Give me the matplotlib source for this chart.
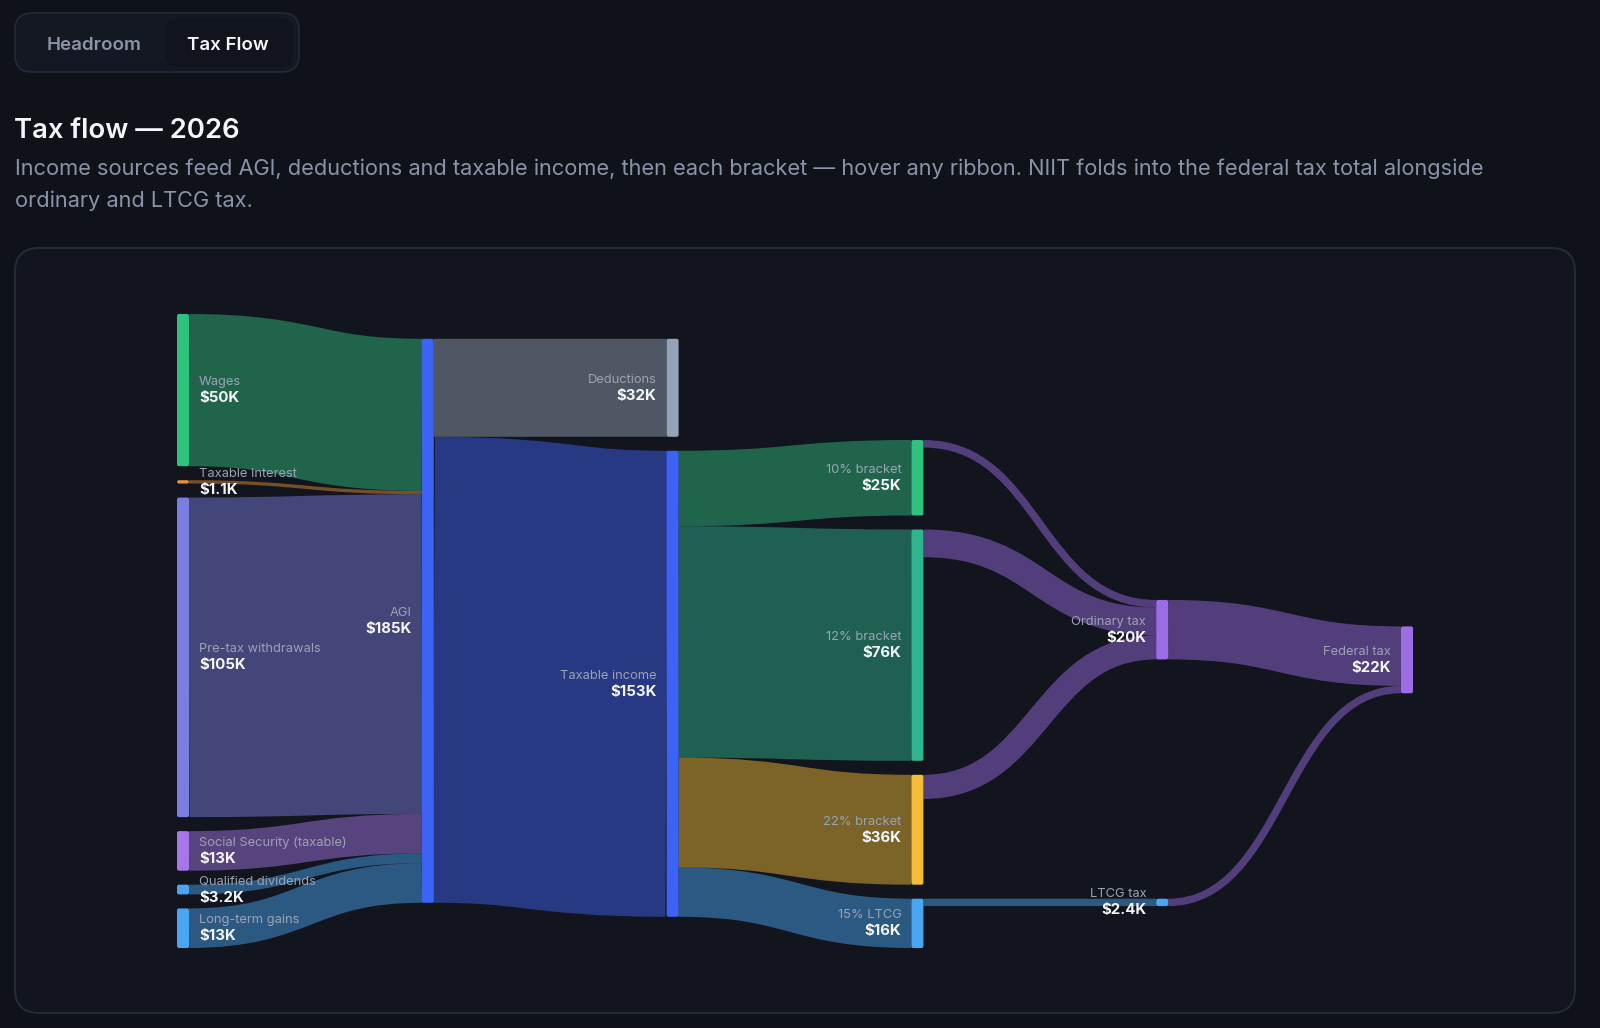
import matplotlib
matplotlib.use("Agg")
import matplotlib.pyplot as plt
from matplotlib.path import Path
from matplotlib.patches import PathPatch, FancyBboxPatch

plt.rcParams['font.family'] = ['Inter', 'DejaVu Sans']

# ---- data (values in $K) ----
node_names = ["Wages", "Taxable Interest", "Pre-tax withdrawals", "Social Security (taxable)",
              "Qualified dividends", "Long-term gains", "AGI", "Deductions", "Taxable income",
              "10% bracket", "12% bracket", "22% bracket", "15% LTCG",
              "Ordinary tax", "LTCG tax", "Federal tax"]
node_colors = ["#30c17f", "#e8913a", "#7a7ee0", "#a577ea",
               "#4ba6f2", "#4ba6f2", "#3d63f5", "#94a3b8", "#3d63f5",
               "#30c17f", "#2fb68f", "#f5bd35", "#4ba6f2",
               "#9b6ee6", "#4ba6f2", "#9b6ee6"]

link_src = [0, 1, 2, 3, 4, 5, 6, 6, 8, 8, 8, 8, 9, 10, 11, 12, 13, 14]
link_dst = [6, 6, 6, 6, 6, 6, 7, 8, 9, 10, 11, 12, 13, 13, 13, 14, 15, 15]
link_val = [50.0, 1.1, 105.0, 13.0, 3.2, 13.0,
            32.2, 153.1,
            24.8, 76.0, 36.1, 16.2,
            2.48, 9.12, 7.94, 2.43,
            19.54, 2.43]

BG = "#0f1219"
CARD = "#12151d"


def sankey_layout(n, src, dst, vals, x0, y0, x1, y1, dx, py):
    # columns by longest path; each node is placed where its incoming ribbons
    # run flat (value weighted), then overlaps inside the column are pushed apart
    nodes = [{'i': i, 'sl': [], 'tl': []} for i in range(n)]
    links = []
    for k, (s, t, v) in enumerate(zip(src, dst, vals)):
        lk = {'s': nodes[s], 't': nodes[t], 'v': v, 'i': k}
        nodes[s]['sl'].append(lk)
        nodes[t]['tl'].append(lk)
        links.append(lk)
    for nd in nodes:
        nd['v'] = max(sum(l['v'] for l in nd['sl']), sum(l['v'] for l in nd['tl']))
    current, d = set(range(n)), 0
    while current:
        nxt = set()
        for i in current:
            nodes[i]['layer'] = d
            for l in nodes[i]['sl']:
                nxt.add(l['t']['i'])
        current, d = nxt, d + 1
    ncol = max(nd['layer'] for nd in nodes) + 1
    kx = (x1 - x0 - dx) / (ncol - 1)
    columns = [[] for _ in range(ncol)]
    for nd in nodes:
        nd['x0'] = x0 + nd['layer'] * kx
        nd['x1'] = nd['x0'] + dx
        columns[nd['layer']].append(nd)

    ky = min((y1 - y0 - (len(c) - 1) * py) / sum(nd['v'] for nd in c) for c in columns)
    for l in links:
        l['w'] = l['v'] * ky
    for nd in nodes:
        nd['h'] = nd['v'] * ky

    def stack(col, tops):
        order = sorted(col, key=lambda q: tops[q['i']])
        y = y0
        for nd in order:
            nd['y0'] = max(tops[nd['i']], y)
            nd['y1'] = nd['y0'] + nd['h']
            y = nd['y1'] + py
        over = order[-1]['y1'] - y1
        if over > 0:
            lim = y1
            for nd in reversed(order):
                if nd['y1'] > lim:
                    nd['y0'] -= nd['y1'] - lim
                    nd['y1'] = lim
                lim = nd['y0'] - py

    def flat_top(s, t):
        y = s['y0']
        for l in s['sl']:
            if l['t'] is t:
                break
            y += l['w']
        for l in t['tl']:
            if l['s'] is s:
                break
            y -= l['w']
        return y

    # first column: stacked and spread over the full height
    first = columns[0]
    spare = (y1 - y0 - sum(nd['h'] for nd in first) - (len(first) - 1) * py) / (len(first) + 1)
    y = y0
    for nd in first:
        nd['y0'] = y + spare
        nd['y1'] = nd['y0'] + nd['h']
        y = nd['y1'] + py

    for col in columns[1:]:
        for _ in range(2):
            for t in col:
                t['tl'].sort(key=lambda l: (l['s']['y0'], l['i']))
            tops = {}
            for t in col:
                tops[t['i']] = (sum(flat_top(l['s'], t) * l['v'] for l in t['tl'])
                                / sum(l['v'] for l in t['tl']))
            stack(col, tops)
            for t in col:
                for l in t['tl']:
                    l['s']['sl'].sort(key=lambda q: (q['t'].get('y0', 0), q['i']))

    for nd in nodes:
        nd['sl'].sort(key=lambda q: (q['t']['y0'], q['i']))
        nd['tl'].sort(key=lambda q: (q['s']['y0'], q['i']))
        ya = yb = nd['y0']
        for l in nd['sl']:
            l['ys'] = ya + l['w'] / 2
            ya += l['w']
        for l in nd['tl']:
            l['yt'] = yb + l['w'] / 2
            yb += l['w']
    return nodes, links


def fmt(v):
    return f"${v:.1f}K" if v < 10 else f"${v:.0f}K"


W, H = 1600, 1028
fig = plt.figure(figsize=(W / 100, H / 100), dpi=100, facecolor=BG)
ax = fig.add_axes([0, 0, 1, 1])
ax.set_xlim(0, W)
ax.set_ylim(H, 0)
ax.axis('off')
ax.set_facecolor(BG)

# tabs
ax.add_patch(FancyBboxPatch((15, 13), 284, 59, boxstyle="round,pad=0,rounding_size=17",
                            facecolor="#141822", edgecolor="#252a35", lw=1.2))
ax.add_patch(FancyBboxPatch((165, 18), 128, 49, boxstyle="round,pad=0,rounding_size=13",
                            facecolor="#11141c", edgecolor="none"))
ax.text(94, 50, "Headroom", fontsize=13.5, fontweight='semibold', color="#8b95a7",
        ha='center', va='baseline')
ax.text(228, 50, "Tax Flow", fontsize=13.5, fontweight='semibold', color="#f4f6f9",
        ha='center', va='baseline')

# heading
ax.text(14, 138, "Tax flow \u2014 2026", fontsize=19.8, fontweight='semibold', color="#f4f6f9",
        ha='left', va='baseline')
ax.text(15, 175, "Income sources feed AGI, deductions and taxable income, then each bracket \u2014 "
        "hover any ribbon. NIIT folds into the federal tax total alongside",
        fontsize=15.7, color="#8a94a8", ha='left', va='baseline')
ax.text(15, 207, "ordinary and LTCG tax.", fontsize=15.7, color="#8a94a8",
        ha='left', va='baseline')

# card
ax.add_patch(FancyBboxPatch((15, 248), 1560, 765, boxstyle="round,pad=0,rounding_size=24",
                            facecolor=CARD, edgecolor="#252a35", lw=1.5))

nodes, links = sankey_layout(len(node_names), link_src, link_dst, link_val,
                             177, 314, 1413, 948, 12, 14)

for l in links:
    s, t = l['s'], l['t']
    col = node_colors[s['i']] if s['layer'] == 0 else node_colors[t['i']]
    xm = (s['x1'] + t['x0']) / 2
    p = Path([(s['x1'], l['ys']), (xm, l['ys']), (xm, l['yt']), (t['x0'], l['yt'])],
             [Path.MOVETO, Path.CURVE4, Path.CURVE4, Path.CURVE4])
    ax.add_patch(PathPatch(p, facecolor='none', edgecolor=col, alpha=0.47,
                           lw=max(1, l['w']) * 0.72, capstyle='butt', zorder=2))

for nd in nodes:
    i = nd['i']
    ax.add_patch(FancyBboxPatch((nd['x0'], nd['y0']), nd['x1'] - nd['x0'], nd['y1'] - nd['y0'],
                                boxstyle="round,pad=0,rounding_size=2",
                                facecolor=node_colors[i], edgecolor='none', zorder=3))
    cy = (nd['y0'] + nd['y1']) / 2
    if nd['layer'] == 0:
        tx, ha = nd['x1'] + 10, 'left'
    else:
        tx, ha = nd['x0'] - 10, 'right'
    ax.text(tx, cy - 5, node_names[i], fontsize=9.3, color="#9aa3b4", ha=ha, va='baseline', zorder=4)
    ax.text(tx, cy + 12, fmt(nd['v']), fontsize=10.8, fontweight='bold', color="#f5f7fa",
            ha=ha, va='baseline', zorder=4)

fig.savefig("out.png", dpi=100, facecolor=BG)
